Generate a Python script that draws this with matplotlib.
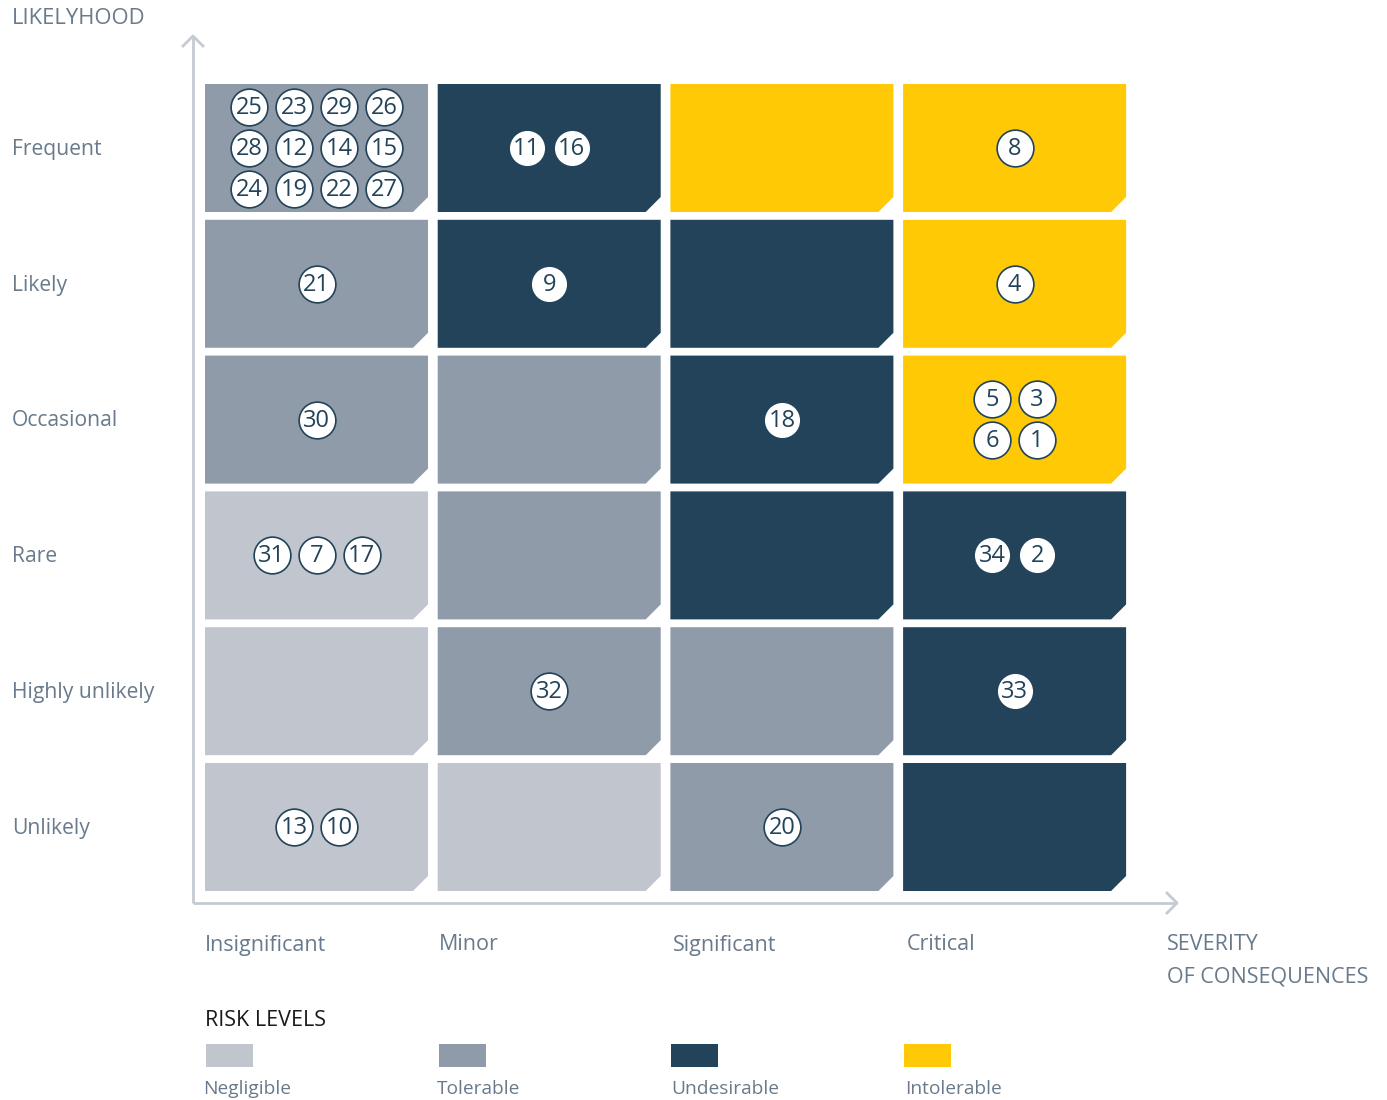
import matplotlib
matplotlib.use("Agg")
from matplotlib import pyplot as plt
from matplotlib.patches import Polygon, Rectangle
import numpy as np

plt.rcParams['font.family'] = ['Open Sans', 'DejaVu Sans']

# Data
likelihood = ["Frequent", "Likely", "Occasional", "Rare", "Highly unlikely", "Unlikely"]
severity = ["Insignificant", "Minor", "Significant", "Critical"]
levels = ["Negligible", "Tolerable", "Undesirable", "Intolerable"]
level_colors = ["#c0c5ce", "#8f9ba9", "#224359", "#ffca05"]

# risk level index per cell, rows from Frequent down to Unlikely
risk_matrix = [
    [1, 2, 3, 3],
    [1, 2, 2, 3],
    [1, 1, 2, 3],
    [0, 1, 2, 2],
    [0, 1, 1, 2],
    [0, 0, 1, 2],
]

# risk ids placed in cells: (likelihood, severity, ids, columns of circles)
risks = [
    ("Frequent", "Insignificant", [25, 23, 29, 26, 28, 12, 14, 15, 24, 19, 22, 27], 4),
    ("Frequent", "Minor", [11, 16], 2),
    ("Frequent", "Critical", [8], 1),
    ("Likely", "Insignificant", [21], 1),
    ("Likely", "Minor", [9], 1),
    ("Likely", "Critical", [4], 1),
    ("Occasional", "Insignificant", [30], 1),
    ("Occasional", "Significant", [18], 1),
    ("Occasional", "Critical", [5, 3, 6, 1], 2),
    ("Rare", "Insignificant", [31, 7, 17], 3),
    ("Rare", "Critical", [34, 2], 2),
    ("Highly unlikely", "Minor", [32], 1),
    ("Highly unlikely", "Critical", [33], 1),
    ("Unlikely", "Insignificant", [13, 10], 2),
    ("Unlikely", "Significant", [20], 1),
]

navy = "#224359"
label_gray = "#687a8b"
axis_gray = "#c5cad3"

# pixel scale of one grid unit
PX, PY = 232.7, 135.8
X0, Y0 = 316.5, 827.0


def dx(p):
    return (p - X0) / PX


def dy(p):
    return (Y0 - p) / PY


fig = plt.figure(figsize=(13.87, 11.0), dpi=100)
ax = fig.add_axes([0, 0, 1, 1])
ax.set_xlim(dx(0), dx(1387))
ax.set_ylim(dy(1100), dy(0))
ax.axis("off")

n_rows = len(likelihood)
hw, hh = 111.5 / PX, 64 / PY
cx, cy = 15 / PX, 15 / PY

# cells
for r in range(n_rows):
    yc = n_rows - 1 - r
    for c in range(len(severity)):
        col = level_colors[risk_matrix[r][c]]
        pts = [(c - hw, yc - hh), (c + hw - cx, yc - hh), (c + hw, yc - hh + cy),
               (c + hw, yc + hh), (c - hw, yc + hh)]
        ax.add_patch(Polygon(pts, closed=True, facecolor=col, edgecolor="none", zorder=1))

# risk circles
sx, sy = 45 / PX, 41 / PY
for lk, sv, ids, ncol in risks:
    yc = n_rows - 1 - likelihood.index(lk)
    xc = severity.index(sv)
    nrow = int(np.ceil(len(ids) / ncol))
    xs, ys = [], []
    for k, rid in enumerate(ids):
        i, j = k % ncol, k // ncol
        x = xc + (i - (ncol - 1) / 2) * sx
        y = yc - (j - (nrow - 1) / 2) * sy
        xs.append(x)
        ys.append(y)
        ax.text(x, y - 0.008, str(rid), ha="center", va="center", fontsize=17,
                color=navy, zorder=4)
    ax.scatter(xs, ys, s=700, facecolor="white", edgecolor=navy, linewidth=1.2, zorder=3)

# axes arrows
ax.plot([dx(193), dx(193)], [dy(903), dy(36)], color=axis_gray, lw=2, zorder=0,
        solid_capstyle="butt")
ax.plot([dx(193), dx(1177)], [dy(903), dy(903)], color=axis_gray, lw=2, zorder=0,
        solid_capstyle="butt")
ax.plot([dx(183), dx(193), dx(203)], [dy(46), dy(36), dy(46)], color=axis_gray, lw=2)
ax.plot([dx(1167), dx(1177), dx(1167)], [dy(893), dy(903), dy(913)], color=axis_gray, lw=2)

# labels
ax.text(dx(12), dy(18), "LIKELYHOOD", ha="left", va="center", fontsize=15.8, color=label_gray)
for r, name in enumerate(likelihood):
    ax.text(dx(12), n_rows - 1 - r - 0.01, name, ha="left", va="center", fontsize=15.2,
            color=label_gray)
for c, name in enumerate(severity):
    ax.text(c - hw + c * 1.3 / PX, dy(945), name, ha="left", va="center", fontsize=15.5,
            color=label_gray)
ax.text(dx(1167), dy(945), "SEVERITY", ha="left", va="center", fontsize=15.5, color=label_gray)
ax.text(dx(1167), dy(977), "OF CONSEQUENCES", ha="left", va="center", fontsize=15.5,
        color=label_gray)

# legend
ax.text(-hw, dy(1021), "RISK LEVELS", ha="left", va="center", fontsize=15.5, color="#1a1a1a")
for c, (name, col) in enumerate(zip(levels, level_colors)):
    ax.add_patch(Rectangle((c - hw + 1 / PX, dy(1067)), 47 / PX, 23 / PY, facecolor=col,
                           edgecolor="none"))
    ax.text(c - hw + (c * 1.3 - 2) / PX, dy(1089), name, ha="left", va="center",
            fontsize=13.8, color=label_gray)

fig.savefig("out.png", dpi=100)
